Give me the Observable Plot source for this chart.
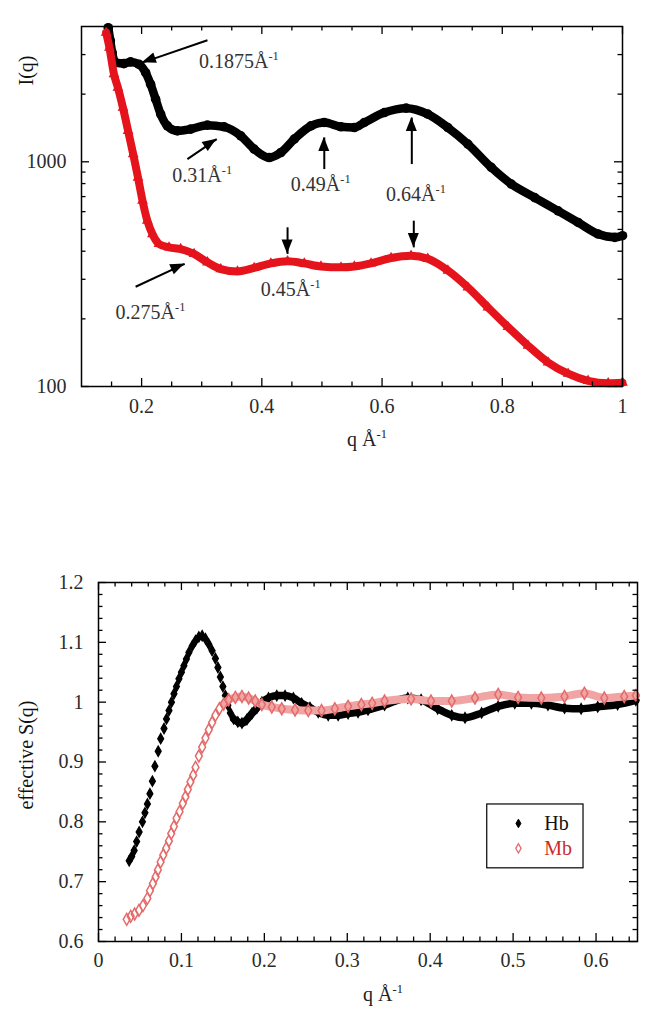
<!DOCTYPE html>
<html>
<head>
<meta charset="utf-8">
<script src="https://cdn.jsdelivr.net/npm/d3@7"></script>
<script src="https://cdn.jsdelivr.net/npm/@observablehq/plot@0.6"></script>
<style>
  html, body { margin: 0; padding: 0; background: #fff; }
  #charts svg { display: block; }
</style>
</head>
<body>
<div id="charts"></div>
<script>
// ---------- Top chart data: I(q), log scale ----------
const hbTopQ = [0.1445, 0.148, 0.151, 0.157, 0.1705, 0.1817, 0.1955, 0.2067, 0.215, 0.2233,
  0.2317, 0.2428, 0.2595, 0.2817, 0.3095, 0.3372, 0.365, 0.3872, 0.4122, 0.4317,
  0.4539, 0.4817, 0.5039, 0.5317, 0.5539, 0.5706, 0.6039, 0.64, 0.6761, 0.7095,
  0.7428, 0.7817, 0.815, 0.8539, 0.8928, 0.9262, 0.9595, 0.9872, 1.0];
const hbTopI = [3950, 3450, 3060, 2760, 2735, 2783, 2717, 2493, 2213, 1900,
  1630, 1445, 1373, 1397, 1456, 1431, 1305, 1139, 1045, 1100,
  1261, 1445, 1496, 1431, 1420, 1496, 1656, 1733, 1630, 1420,
  1199, 944, 796, 693, 605, 537, 477, 461, 469];
const mbTopQ = [0.141, 0.1465, 0.154, 0.1605, 0.169, 0.1775, 0.186, 0.194, 0.2015, 0.2095,
  0.218, 0.2289, 0.2456, 0.265, 0.2872, 0.3095, 0.3317, 0.3595, 0.3872, 0.415,
  0.4428, 0.4706, 0.4983, 0.5317, 0.5539, 0.5817, 0.615, 0.6483, 0.6761, 0.7095,
  0.7428, 0.7761, 0.8095, 0.8428, 0.8762, 0.9095, 0.9428, 0.9762, 1.0];
const mbTopI = [3760, 3220, 2455, 2140, 1740, 1373, 1082, 851, 671, 547,
  477, 431, 416, 409, 389, 357, 333, 325, 337, 353,
  361, 353, 342, 339, 342, 353, 373, 382, 370, 328,
  276, 225, 184, 152, 128, 114, 106, 103.5, 104];

// annotation arrows (data coordinates: q, I)
const arrowQ1 = [0.3095, 0.2762, 0.5039, 0.6495, 0.6528, 0.4428, 0.19];
const arrowI1 = [3475, 1028, 928, 977, 547, 511, 278];
const arrowQ2 = [0.2012, 0.325, 0.5039, 0.6495, 0.6528, 0.4428, 0.2717];
const arrowI2 = [2761, 1261, 1283, 1573, 416, 389, 351];
// annotation labels
const peakLabels = ["0.1875Å⁻¹", "0.31Å⁻¹", "0.49Å⁻¹", "0.64Å⁻¹", "0.45Å⁻¹", "0.275Å⁻¹"];
const labelQ = [0.2955, 0.2511, 0.4483, 0.6067, 0.3983, 0.1567];
const labelI = [2625, 809, 743, 671, 254, 200];

// top ticks
const topXMajor = [0.2, 0.4, 0.6, 0.8, 1];
const topXMinor = [0.15, 0.25, 0.3, 0.35, 0.45, 0.5, 0.55, 0.65, 0.7, 0.75, 0.85, 0.9, 0.95];
const topYMajor = [100, 1000];
const topYMinor = [200, 300, 400, 500, 600, 700, 800, 900, 2000, 3000];

// ---------- Bottom chart data: effective S(q) ----------
const hbSQ = [0.037, 0.040, 0.043, 0.046, 0.049, 0.053, 0.056, 0.059, 0.062, 0.065,
  0.068, 0.072, 0.075, 0.079, 0.082, 0.085, 0.088, 0.091, 0.094, 0.097,
  0.100, 0.103, 0.106, 0.109, 0.113, 0.117, 0.121, 0.125, 0.129, 0.133,
  0.137, 0.141, 0.144, 0.147, 0.150, 0.153, 0.156, 0.159, 0.163, 0.168,
  0.173, 0.179, 0.185, 0.191, 0.197, 0.205, 0.215, 0.225, 0.235, 0.245,
  0.255, 0.265, 0.277, 0.289, 0.301, 0.313, 0.325, 0.345, 0.373, 0.389,
  0.409, 0.426, 0.442, 0.462, 0.482, 0.502, 0.522, 0.542, 0.562, 0.582,
  0.602, 0.626, 0.648];
const hbS = [0.735, 0.742, 0.752, 0.767, 0.783, 0.800, 0.815, 0.830, 0.847, 0.868,
  0.893, 0.918, 0.939, 0.956, 0.972, 0.986, 1.000, 1.014, 1.026, 1.039,
  1.050, 1.061, 1.072, 1.083, 1.094, 1.103, 1.109, 1.111, 1.106, 1.097,
  1.086, 1.073, 1.058, 1.042, 1.026, 1.011, 0.995, 0.982, 0.972, 0.967,
  0.965, 0.971, 0.981, 0.990, 1.000, 1.007, 1.011, 1.011, 1.007, 0.998,
  0.991, 0.983, 0.978, 0.978, 0.981, 0.983, 0.987, 0.995, 1.007, 1.004,
  0.989, 0.978, 0.974, 0.982, 0.993, 0.998, 0.998, 0.995, 0.990, 0.989,
  0.992, 0.996, 1.003];
const mbSQ = [0.034, 0.0388, 0.0436, 0.0488, 0.0536, 0.0589, 0.062, 0.0656, 0.0689, 0.0716,
  0.0749, 0.0781, 0.0817, 0.0849, 0.0877, 0.0909, 0.0941, 0.0977, 0.1017, 0.1049,
  0.1077, 0.1109, 0.1142, 0.117, 0.121, 0.125, 0.129, 0.133, 0.137, 0.141,
  0.1458, 0.151, 0.157, 0.165, 0.173, 0.181, 0.189, 0.197, 0.209, 0.221,
  0.237, 0.253, 0.269, 0.285, 0.301, 0.317, 0.33, 0.345, 0.377, 0.401,
  0.426, 0.454, 0.482, 0.506, 0.534, 0.562, 0.586, 0.61, 0.634, 0.648];
const mbS = [0.637, 0.642, 0.646, 0.652, 0.660, 0.672, 0.685, 0.697, 0.708, 0.7195,
  0.733, 0.7445, 0.756, 0.768, 0.7805, 0.792, 0.806, 0.817, 0.831, 0.842,
  0.854, 0.867, 0.878, 0.891, 0.910, 0.925, 0.940, 0.954, 0.966, 0.978,
  0.989, 0.997, 1.004, 1.008, 1.0095, 1.007, 1.002, 0.996, 0.992, 0.989,
  0.987, 0.986, 0.986, 0.989, 0.993, 0.996, 0.998, 1.002, 1.0055, 1.002,
  1.002, 1.007, 1.013, 1.008, 1.007, 1.0095, 1.015, 1.007, 1.0095, 1.011];

const seriesNames = ["Hb", "Mb"];

// bottom ticks
const botXMajor = [0, 0.1, 0.2, 0.3, 0.4, 0.5, 0.6];
const botXMinor = [0.02, 0.04, 0.06, 0.08, 0.12, 0.14, 0.16, 0.18, 0.22, 0.24, 0.26, 0.28,
  0.32, 0.34, 0.36, 0.38, 0.42, 0.44, 0.46, 0.48, 0.52, 0.54, 0.56, 0.58, 0.62, 0.64];
const botYMajor = [0.6, 0.7, 0.8, 0.9, 1, 1.1, 1.2];
const botYMinor = [0.62, 0.64, 0.66, 0.68, 0.72, 0.74, 0.76, 0.78, 0.82, 0.84, 0.86, 0.88,
  0.92, 0.94, 0.96, 0.98, 1.02, 1.04, 1.06, 1.08, 1.12, 1.14, 1.16, 1.18];

// ---------- build ----------
const FONT = "'Liberation Serif', 'Times New Roman', 'DejaVu Serif', serif";
const RED = "#e5141c";
const PINK = "#e46a6a";
const TICKCOL = "#2b2b2b";

const hbTop = hbTopQ.map((q, i) => ({q, I: hbTopI[i]}));
const mbTop = mbTopQ.map((q, i) => ({q, I: mbTopI[i]}));
const arrows = arrowQ1.map((q1, i) => ({q1, i1: arrowI1[i], q2: arrowQ2[i], i2: arrowI2[i]}));
const labels = peakLabels.map((t, i) => ({t, q: labelQ[i], I: labelI[i]}));
const hbB = hbSQ.map((q, i) => ({q, s: hbS[i]}));
const mbB = mbSQ.map((q, i) => ({q, s: mbS[i]}));

function frameTicks(W, H, mL, mR, mT, mB, xMaj, xMin, yMaj, yMin) {
  const pw = W - mL - mR, ph = H - mT - mB;
  const LM = 8, Lm = 4.5, sw = 1.3, c = "#000";
  const out = [];
  for (const [vals, len] of [[xMaj, LM], [xMin, Lm]]) {
    out.push(Plot.ruleX(vals, {x: d => d, insetTop: ph - len, stroke: c, strokeWidth: sw}));
    out.push(Plot.ruleX(vals, {x: d => d, insetBottom: ph - len, stroke: c, strokeWidth: sw}));
  }
  for (const [vals, len] of [[yMaj, LM], [yMin, Lm]]) {
    out.push(Plot.ruleY(vals, {y: d => d, insetRight: pw - len, stroke: c, strokeWidth: sw}));
    out.push(Plot.ruleY(vals, {y: d => d, insetLeft: pw - len, stroke: c, strokeWidth: sw}));
  }
  return out;
}

function arrowHeads(rows) {
  return (index, scales) => {
    const ns = "http://www.w3.org/2000/svg";
    const g = document.createElementNS(ns, "g");
    for (const a of rows) {
      const x1 = scales.x(a.q1), y1 = scales.y(a.i1), x2 = scales.x(a.q2), y2 = scales.y(a.i2);
      const ang = Math.atan2(y2 - y1, x2 - x1);
      const L = 14, hw = 5.5;
      const bx = x2 - L * Math.cos(ang), by = y2 - L * Math.sin(ang);
      const px = -Math.sin(ang) * hw, py = Math.cos(ang) * hw;
      const p = document.createElementNS(ns, "path");
      p.setAttribute("d", `M${x2},${y2}L${bx + px},${by + py}L${bx - px},${by - py}Z`);
      p.setAttribute("fill", "#000");
      g.appendChild(p);
    }
    return g;
  };
}

// Top chart
const T = {W: 659, H: 460, mL: 81, mR: 37, mT: 26, mB: 74};
const topPlot = Plot.plot({
  width: T.W, height: T.H,
  marginLeft: T.mL, marginRight: T.mR, marginTop: T.mT, marginBottom: T.mB,
  style: {fontFamily: FONT, background: "#fff", color: "#000"},
  x: {domain: [0.1, 1]},
  y: {type: "log", domain: [100, 4000]},
  marks: [
    Plot.line(hbTop, {x: "q", y: "I", stroke: "#000", strokeWidth: 8.5, curve: "monotone-x"}),
    Plot.dot(hbTop, {x: "q", y: "I", r: 4.8, fill: "#000"}),
    Plot.line(mbTop, {x: "q", y: "I", stroke: RED, strokeWidth: 8, curve: "monotone-x"}),
    Plot.dot(mbTop, {x: "q", y: "I", r: 4, symbol: "triangle", fill: RED}),
    Plot.link(arrows, {x1: "q1", y1: "i1", x2: "q2", y2: "i2", stroke: "#000", strokeWidth: 2}),
    arrowHeads(arrows),
    Plot.text(labels, {x: "q", y: "I", text: "t", textAnchor: "start", lineAnchor: "bottom",
      fontSize: 20, fill: "#333"}),
    Plot.frame({stroke: "#000", strokeWidth: 1.5}),
    ...frameTicks(T.W, T.H, T.mL, T.mR, T.mT, T.mB, topXMajor, topXMinor, topYMajor, topYMinor),
    Plot.axisX(topXMajor, {tickSize: 0, tickPadding: 12, fontSize: 20, fill: TICKCOL,
      tickFormat: d => String(d), label: null}),
    Plot.axisY(topYMajor, {tickSize: 0, tickPadding: 15, fontSize: 20, fill: TICKCOL,
      tickFormat: d => String(d), label: null}),
    Plot.text(["I(q)"], {frameAnchor: "top-left", dx: -55, dy: 44, rotate: -90,
      textAnchor: "middle", lineAnchor: "middle", fontSize: 20, fill: "#111"}),
    Plot.text(["q Å⁻¹"], {frameAnchor: "bottom", dx: 15, dy: 59,
      textAnchor: "middle", lineAnchor: "bottom", fontSize: 20, fill: "#222"})
  ]
});

// Bottom chart
const B = {W: 659, H: 557, mL: 98, mR: 22, mT: 122, mB: 76};
const botPlot = Plot.plot({
  width: B.W, height: B.H,
  marginLeft: B.mL, marginRight: B.mR, marginTop: B.mT, marginBottom: B.mB,
  style: {fontFamily: FONT, background: "#fff", color: "#000"},
  x: {domain: [0, 0.65]},
  y: {domain: [0.6, 1.2]},
  marks: [
    Plot.line(hbB.filter(d => d.q >= 0.16), {x: "q", y: "s", stroke: "#000", strokeWidth: 7.5, curve: "monotone-x"}),
    Plot.dot(hbB, {x: "q", y: "s", r: 3.1, symbol: "diamond", fill: "#000", stroke: "#000", strokeWidth: 1.3}),
    Plot.line(mbB.filter(d => d.q >= 0.15), {x: "q", y: "s", stroke: "#f0a4a4", strokeWidth: 8, curve: "monotone-x"}),
    Plot.dot(mbB, {x: "q", y: "s", r: 3.6, symbol: "diamond", fill: "none", stroke: PINK, strokeWidth: 1.5}),
    Plot.frame({stroke: "#000", strokeWidth: 1.5}),
    ...frameTicks(B.W, B.H, B.mL, B.mR, B.mT, B.mB, botXMajor, botXMinor, botYMajor, botYMinor),
    Plot.axisX(botXMajor, {tickSize: 0, tickPadding: 11, fontSize: 20, fill: TICKCOL,
      tickFormat: d => String(d), label: null}),
    Plot.axisY(botYMajor, {tickSize: 0, tickPadding: 15, fontSize: 20, fill: TICKCOL,
      tickFormat: d => String(d), label: null}),
    Plot.text(["effective S(q)"], {frameAnchor: "left", dx: -72, dy: -7, rotate: -90,
      textAnchor: "middle", lineAnchor: "middle", fontSize: 20, fill: "#111"}),
    Plot.text(["q Å⁻¹"], {frameAnchor: "bottom", dx: 15, dy: 59,
      textAnchor: "middle", lineAnchor: "bottom", fontSize: 20, fill: "#222"}),
    // legend
    Plot.rect([0], {x1: 0.4688, x2: 0.5849, y1: 0.7223, y2: 0.829, fill: "#fff", stroke: "#000", strokeWidth: 1.2}),
    Plot.dot([seriesNames[0]], {x: 0.5064, y: 0.7973, r: 2.6, symbol: "diamond", fill: "#000", stroke: "#000", strokeWidth: 1}),
    Plot.dot([seriesNames[1]], {x: 0.5064, y: 0.7557, r: 2.8, symbol: "diamond", fill: "none", stroke: PINK, strokeWidth: 1.3}),
    Plot.text([seriesNames[0]], {x: 0.5376, y: 0.7973, text: d => d, textAnchor: "start", lineAnchor: "middle", fontSize: 20, fill: "#111"}),
    Plot.text([seriesNames[1]], {x: 0.5376, y: 0.7557, text: d => d, textAnchor: "start", lineAnchor: "middle", fontSize: 20, fill: "#cc2b2b"})
  ]
});

// superscript formatting for "Å⁻¹"
function superscripts(svg) {
  svg.querySelectorAll("text").forEach(t => {
    if (t.childElementCount === 0 && t.textContent.includes("⁻¹")) {
      const base = t.textContent.replace("⁻¹", "");
      t.textContent = base;
      const ts = document.createElementNS("http://www.w3.org/2000/svg", "tspan");
      ts.setAttribute("dy", "-8");
      ts.setAttribute("style", "font-size:62%");
      ts.textContent = "-1";
      t.appendChild(ts);
    }
  });
}
superscripts(topPlot);
superscripts(botPlot);

const host = document.getElementById("charts");
host.appendChild(topPlot);
host.appendChild(botPlot);
</script>
</body>
</html>
